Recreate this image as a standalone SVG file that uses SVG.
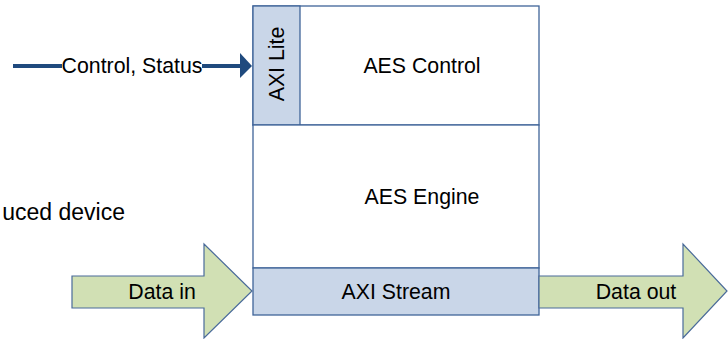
<svg xmlns="http://www.w3.org/2000/svg" width="728" height="339" viewBox="0 0 728 339">
  <style>
    .lbl { font-family: "Liberation Sans", Arial, sans-serif; font-size: 21.3px; fill: #000; }
    .cap { font-family: "Liberation Sans", Arial, sans-serif; font-size: 23px; fill: #000; }
    .box { fill: #fff; stroke: #3f6499; stroke-width: 1.3; }
    .iface { fill: #c9d6e8; stroke: #3f6499; stroke-width: 1.3; }
    .flow { fill: #d1e0b4; stroke: #4a6b9a; stroke-width: 1.2; }
    .wire { stroke: #1f4a7e; stroke-width: 4; fill: none; }
  </style>
  <rect width="728" height="339" fill="#fff"/>

  <!-- AES core -->
  <g id="aes-control">
    <rect class="box" x="253" y="6" width="286" height="119"/>
    <text class="lbl" x="422" y="73" text-anchor="middle">AES Control</text>
  </g>
  <g id="axi-lite">
    <rect class="iface" x="253" y="6" width="47" height="119"/>
    <text class="lbl" transform="translate(284,64) rotate(-90)" text-anchor="middle">AXI Lite</text>
  </g>
  <g id="aes-engine">
    <rect class="box" x="253" y="125" width="286" height="143"/>
    <text class="lbl" x="422" y="204" text-anchor="middle">AES Engine</text>
  </g>
  <g id="axi-stream">
    <rect class="iface" x="253" y="268" width="286" height="47"/>
    <text class="lbl" x="396" y="299" text-anchor="middle">AXI Stream</text>
  </g>

  <!-- caption at the left margin -->
  <text class="cap" x="125" y="220" text-anchor="end">uced device</text>

  <!-- data flow arrows -->
  <g id="data-in">
    <path class="flow" d="M72,276 H204 V244 L252,291 L204,338 V308 H72 Z"/>
    <text class="lbl" x="162" y="299" text-anchor="middle">Data in</text>
  </g>
  <g id="data-out">
    <path class="flow" d="M539,276 H683 V244 L727,291 L683,338 V308 H539 Z"/>
    <text class="lbl" x="636" y="299" text-anchor="middle">Data out</text>
  </g>

  <!-- control connector -->
  <g id="connectors">
    <line class="wire" x1="13" y1="66" x2="62" y2="66"/>
    <line class="wire" x1="202" y1="66" x2="241" y2="66"/>
    <polygon points="240,53 252,66 240,78" fill="#1f4a7e"/>
    <text class="lbl" x="132" y="73" text-anchor="middle">Control, Status</text>
  </g>
</svg>
